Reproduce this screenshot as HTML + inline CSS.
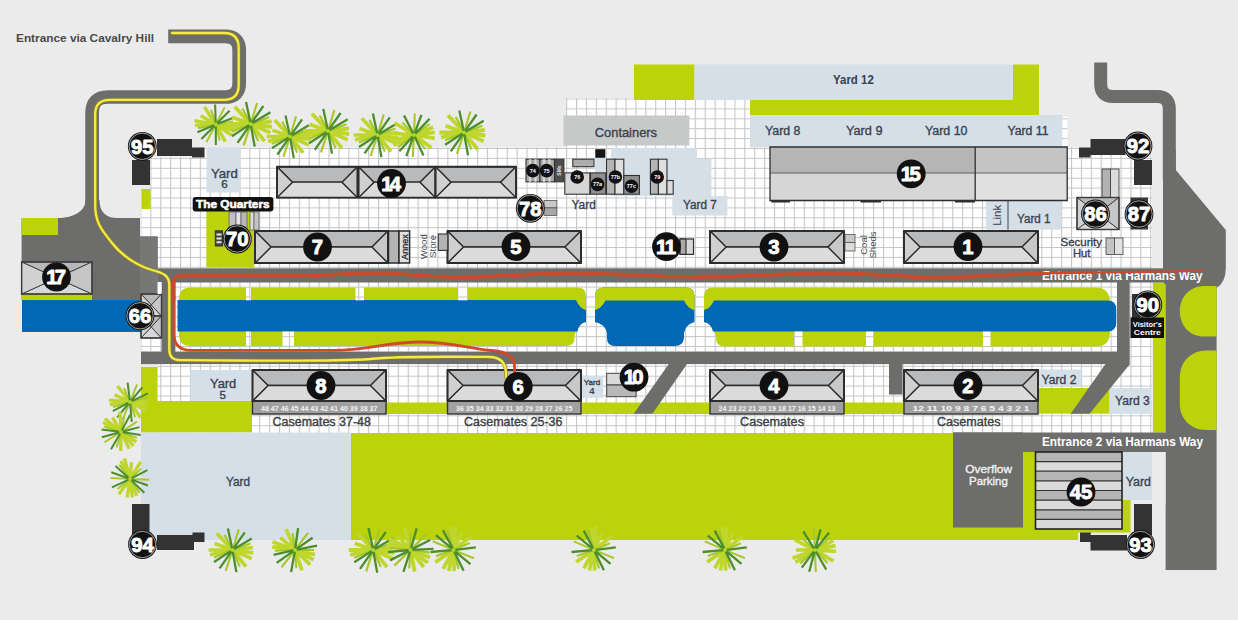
<!DOCTYPE html>
<html lang="en"><head><meta charset="utf-8"><title>Site map</title>
<style>html,body{margin:0;padding:0;background:#ebebeb;overflow:hidden}svg{display:block}</style></head>
<body>
<svg width="1238" height="620" viewBox="0 0 1238 620" font-family="'Liberation Sans', sans-serif">
<defs>
<pattern id="g" x="150.3" y="98.5" width="9.9" height="9.9" patternUnits="userSpaceOnUse">
<rect width="9.9" height="9.9" fill="#fff"/><path d="M0.55,0V9.9M0,0.55H9.9" stroke="#c6c6c6" stroke-width="1.1" fill="none"/></pattern>
</defs>
<rect x="0.0" y="0.0" width="1238.0" height="620.0" fill="#ebebeb" />
<rect x="565.8" y="98.5" width="184.2" height="49.5" fill="url(#g)" />
<rect x="1062.0" y="117.0" width="5.5" height="31.0" fill="url(#g)" />
<rect x="205.0" y="147.5" width="947.0" height="121.5" fill="url(#g)" />
<rect x="150.0" y="157.0" width="55.0" height="112.0" fill="url(#g)" />
<rect x="141.5" y="209.0" width="8.5" height="27.0" fill="url(#g)" />
<rect x="161.0" y="282.0" width="991.0" height="69.5" fill="url(#g)" />
<rect x="141.0" y="338.0" width="21.0" height="13.0" fill="url(#g)" />
<rect x="157.5" y="364.0" width="994.5" height="69.0" fill="url(#g)" />
<rect x="1129.0" y="269.0" width="23.0" height="163.5" fill="url(#g)" />
<rect x="634.0" y="64.5" width="60.5" height="35.5" fill="#bcd20a" />
<rect x="694.5" y="64.5" width="318.5" height="35.5" fill="#d5dfe7" />
<rect x="1013.0" y="64.5" width="26.0" height="50.5" fill="#bcd20a" />
<rect x="750.0" y="100.0" width="289.0" height="15.0" fill="#bcd20a" />
<rect x="750.0" y="115.0" width="312.0" height="32.2" fill="#d5dfe7" />
<rect x="563.5" y="115.5" width="125.8" height="30.0" fill="#c7c8c8" />
<rect x="206.6" y="147.3" width="34.2" height="45.2" fill="#d5dfe7" />
<rect x="141.5" y="189.0" width="9.0" height="20.0" fill="#bcd20a" />
<rect x="206.3" y="211.0" width="48.0" height="56.4" fill="#bcd20a" />
<path d="M611,148H697V158.7H711.4V196H727.4V215.5H672.3V196H611Z" fill="#d5dfe7"/>
<rect x="595.3" y="157.8" width="10.0" height="15.1" fill="#d5dfe7" />
<rect x="985.9" y="200.5" width="22.1" height="29.2" fill="#d5dfe7" />
<rect x="1008.0" y="200.5" width="53.5" height="29.2" fill="#d5dfe7" />
<path d="M1008,200.5V229.7" stroke="#444" stroke-width="1"/>
<rect x="141.0" y="367.0" width="16.5" height="34.0" fill="#bcd20a" />
<rect x="190.5" y="370.0" width="61.0" height="31.0" fill="#d5dfe7" />
<rect x="141.0" y="401.0" width="111.0" height="31.5" fill="#bcd20a" />
<rect x="386.0" y="402.5" width="61.5" height="11.5" fill="#bcd20a" />
<rect x="581.0" y="402.5" width="129.0" height="11.5" fill="#bcd20a" />
<rect x="844.0" y="402.5" width="60.0" height="11.5" fill="#bcd20a" />
<rect x="582.0" y="376.0" width="21.4" height="21.8" fill="#d5dfe7" />
<rect x="1038.5" y="369.5" width="43.0" height="16.8" fill="#d5dfe7" />
<rect x="1038.5" y="388.0" width="71.1" height="25.7" fill="#bcd20a" />
<rect x="1109.6" y="388.0" width="42.2" height="26.0" fill="#d5dfe7" />
<rect x="1153.0" y="282.5" width="12.5" height="150.0" fill="#bcd20a" />
<rect x="141.0" y="432.5" width="210.0" height="107.5" fill="#d5dfe7" />
<path d="M351,433H953V452H1035V500H1130.5V532.5H1078V540H351Z" fill="#bcd20a"/>
<rect x="1122.0" y="452.0" width="30.0" height="48.0" fill="#d5dfe7" />
<rect x="22.0" y="300.0" width="120.0" height="32.0" fill="#0068b4" />
<path d="M85.5,200 C85.5,212 72,218 58,218 H21.6 V300 H157.6 V236.5 H140 V218 H117.5 C106,218 99.5,212 99.5,200 Z" fill="#6d6d6c"/>
<rect x="140.0" y="236.5" width="17.6" height="63.5" fill="#777776" />
<rect x="21.6" y="218.0" width="36.4" height="17.0" fill="#bcd20a" />
<rect x="21.6" y="294.0" width="70.4" height="6.0" fill="#bcd20a" />
<path d="M168.2,36.4 H225 Q239.2,36.4 239.2,50.4 V83 Q239.2,97 225,97 H108 Q92.1,97 92.1,113 V205" fill="none" stroke="#6d6d6c" stroke-width="13.7"/>
<rect x="157.6" y="268.3" width="1012.4" height="14.2" fill="#6d6d6c" />
<rect x="161.5" y="269.0" width="13.9" height="89.0" fill="#6d6d6c" />
<rect x="141.0" y="351.6" width="988.0" height="12.5" fill="#6d6d6c" />
<rect x="1117.0" y="275.0" width="12.7" height="89.5" fill="#6d6d6c" />
<path d="M668.8,364 H687 L652.4,413.7 H633.7 Z" fill="#6d6d6c"/>
<path d="M1105.5,364 H1130 L1089.5,413.7 H1070.7 Z" fill="#6d6d6c"/>
<rect x="889.0" y="364.0" width="13.5" height="30.5" fill="#6d6d6c" />
<path d="M1100.7,62.5 V84 Q1100.7,96.5 1113,96.5 H1157 Q1169.3,96.5 1169.3,109 V180" fill="none" stroke="#6d6d6c" stroke-width="13"/>
<path d="M1163,150 H1175.8 V170 L1225.8,230 V268 Q1225.8,282 1216.6,288 V570 H1165.6 V285 L1163,281 Z" fill="#6d6d6c"/>
<path d="M1216.6,286 H1204 C1190,286 1179.8,297 1179.8,311 C1179.8,326 1190,336.6 1204,336.6 H1216.6Z" fill="#bcd20a"/>
<path d="M1216.6,350.4 H1206 C1191,350.4 1179.8,362 1179.8,377 V404 C1179.8,419 1191,430 1206,430 H1216.6 Z" fill="#bcd20a"/>
<rect x="953.0" y="432.5" width="213.0" height="19.5" fill="#6d6d6c" />
<rect x="953.0" y="432.5" width="70.0" height="95.0" fill="#6d6d6c" />
<rect x="1152.5" y="452.0" width="13.0" height="53.0" fill="#ebebeb" />
<path d="M179,301 V299 Q179,287.6 191,287.6 H577 Q586,287.5 586,296 V322 Q579,323 577,331 Q575,331 574.5,338 Q574.5,346 566,346 H190 Q179,346 179,334 Z" fill="#bcd20a"/>
<path d="M177.5,300 H576 Q580,309 586,310 V322 Q579,323 577.5,331.5 H177.5 Z" fill="#0068b4"/>
<path d="M595,322 V296 Q595,287.5 604,287.5 H686 Q694.5,287.5 694.5,296 V322 Q686,324 684,333 V338 Q683,346 675,346 H615 Q607,346 607,338 V333 Q605,324 595,322 Z" fill="#0068b4"/>
<path d="M595,310 V296 Q595,287.5 604,287.5 H686 Q694.5,287.5 694.5,296 V310 Q688,309 684,300.5 H605.5 Q601,309 595,310 Z" fill="#bcd20a"/>
<path d="M704,322 V296 Q704,287.5 713,287.5 H1096 Q1110,288 1110,302 V332 Q1110,346.5 1096,346.5 H724 Q716,346 716,338 Q715.5,331 713,331 Q711,323 704,322 Z" fill="#bcd20a"/>
<path d="M704,322 V310 Q710,309 714,300.5 H1107.5 Q1116.3,300.5 1116.3,309.5 V322.5 Q1116.3,331.5 1107.5,331.5 H713 Q711,323 704,322 Z" fill="#0068b4"/>
<rect x="246.0" y="287.0" width="5.0" height="13.3" fill="url(#g)" />
<rect x="355.5" y="287.0" width="8.5" height="13.3" fill="url(#g)" />
<rect x="458.0" y="287.0" width="9.5" height="13.3" fill="url(#g)" />
<rect x="246.0" y="331.6" width="5.0" height="14.9" fill="url(#g)" />
<rect x="282.5" y="331.6" width="11.5" height="14.9" fill="url(#g)" />
<rect x="794.0" y="331.6" width="8.5" height="14.9" fill="url(#g)" />
<rect x="866.0" y="331.6" width="8.0" height="14.9" fill="url(#g)" />
<rect x="983.0" y="331.6" width="7.5" height="14.9" fill="url(#g)" />
<g stroke="#2c2c2c" stroke-width="1.3" stroke-linejoin="round">
<path d="M277,166.8H357.5L342.1,182.2H292.4Z" fill="#b9babb"/>
<path d="M277,197.6H357.5L342.1,182.2H292.4Z" fill="#dbdbdb"/>
<path d="M277,166.8L292.4,182.2L277,197.6Z" fill="#d0d0d0"/>
<path d="M357.5,166.8L342.1,182.2L357.5,197.6Z" fill="#c8c8c8"/>
<rect x="277" y="166.8" width="80.5" height="30.799999999999983" fill="none" stroke-width="1.9"/>
</g>
<g stroke="#2c2c2c" stroke-width="1.3" stroke-linejoin="round">
<path d="M358.5,166.8H435.5L420.1,182.2H373.9Z" fill="#b9babb"/>
<path d="M358.5,197.6H435.5L420.1,182.2H373.9Z" fill="#dbdbdb"/>
<path d="M358.5,166.8L373.9,182.2L358.5,197.6Z" fill="#d0d0d0"/>
<path d="M435.5,166.8L420.1,182.2L435.5,197.6Z" fill="#c8c8c8"/>
<rect x="358.5" y="166.8" width="77.0" height="30.799999999999983" fill="none" stroke-width="1.9"/>
</g>
<g stroke="#2c2c2c" stroke-width="1.3" stroke-linejoin="round">
<path d="M435.5,166.8H516L500.6,182.2H450.9Z" fill="#b9babb"/>
<path d="M435.5,197.6H516L500.6,182.2H450.9Z" fill="#dbdbdb"/>
<path d="M435.5,166.8L450.9,182.2L435.5,197.6Z" fill="#d0d0d0"/>
<path d="M516,166.8L500.6,182.2L516,197.6Z" fill="#c8c8c8"/>
<rect x="435.5" y="166.8" width="80.5" height="30.799999999999983" fill="none" stroke-width="1.9"/>
</g>
<g stroke="#2c2c2c" stroke-width="1.3" stroke-linejoin="round">
<path d="M255,231H388L372.0,247.0H271.0Z" fill="#b9babb"/>
<path d="M255,263H388L372.0,247.0H271.0Z" fill="#dbdbdb"/>
<path d="M255,231L271.0,247.0L255,263Z" fill="#d0d0d0"/>
<path d="M388,231L372.0,247.0L388,263Z" fill="#c8c8c8"/>
<rect x="255" y="231" width="133" height="32" fill="none" stroke-width="1.9"/>
</g>
<g stroke="#2c2c2c" stroke-width="1.3" stroke-linejoin="round">
<path d="M447.5,231H581L565.0,247.0H463.5Z" fill="#b9babb"/>
<path d="M447.5,263H581L565.0,247.0H463.5Z" fill="#dbdbdb"/>
<path d="M447.5,231L463.5,247.0L447.5,263Z" fill="#d0d0d0"/>
<path d="M581,231L565.0,247.0L581,263Z" fill="#c8c8c8"/>
<rect x="447.5" y="231" width="133.5" height="32" fill="none" stroke-width="1.9"/>
</g>
<g stroke="#2c2c2c" stroke-width="1.3" stroke-linejoin="round">
<path d="M710,231H844L828.0,247.0H726.0Z" fill="#b9babb"/>
<path d="M710,263H844L828.0,247.0H726.0Z" fill="#dbdbdb"/>
<path d="M710,231L726.0,247.0L710,263Z" fill="#d0d0d0"/>
<path d="M844,231L828.0,247.0L844,263Z" fill="#c8c8c8"/>
<rect x="710" y="231" width="134" height="32" fill="none" stroke-width="1.9"/>
</g>
<g stroke="#2c2c2c" stroke-width="1.3" stroke-linejoin="round">
<path d="M904,231H1038L1022.0,247.0H920.0Z" fill="#b9babb"/>
<path d="M904,263H1038L1022.0,247.0H920.0Z" fill="#dbdbdb"/>
<path d="M904,231L920.0,247.0L904,263Z" fill="#d0d0d0"/>
<path d="M1038,231L1022.0,247.0L1038,263Z" fill="#c8c8c8"/>
<rect x="904" y="231" width="134" height="32" fill="none" stroke-width="1.9"/>
</g>
<g stroke="#2c2c2c" stroke-width="1.5"><rect x="388.5" y="231" width="10.5" height="32" fill="#b4b4b4"/><rect x="399" y="231" width="10.6" height="32" fill="#e0e0e0"/></g>
<rect x="438.3" y="234" width="9.5" height="16.4" fill="#b4b4b4" stroke="#333" stroke-width="1.1"/>
<g stroke="#555" stroke-width="0.8"><rect x="845" y="234.5" width="10" height="8" fill="#c8c8c8"/><rect x="845" y="242.5" width="10" height="8.5" fill="#dcdcdc"/></g>
<rect x="252.5" y="401" width="133.5" height="13" fill="#a0a0a0" stroke="#333" stroke-width="1.4"/>
<text x="319.25" y="411.3" font-size="7.2" font-weight="bold" fill="#f4f4f4" text-anchor="middle" textLength="116.5" lengthAdjust="spacingAndGlyphs">48 47 46 45 44 43 42 41 40 39 38 37</text>
<g stroke="#2c2c2c" stroke-width="1.3" stroke-linejoin="round">
<path d="M252.5,370H386L370.5,385.5H268.0Z" fill="#b9babb"/>
<path d="M252.5,401H386L370.5,385.5H268.0Z" fill="#dbdbdb"/>
<path d="M252.5,370L268.0,385.5L252.5,401Z" fill="#d0d0d0"/>
<path d="M386,370L370.5,385.5L386,401Z" fill="#c8c8c8"/>
<rect x="252.5" y="370" width="133.5" height="31" fill="none" stroke-width="1.9"/>
</g>
<rect x="447.5" y="401" width="133.5" height="13" fill="#a0a0a0" stroke="#333" stroke-width="1.4"/>
<text x="514.25" y="411.3" font-size="7.2" font-weight="bold" fill="#f4f4f4" text-anchor="middle" textLength="116.5" lengthAdjust="spacingAndGlyphs">36 35 34 33 32 31 30 29 28 27 26 25</text>
<g stroke="#2c2c2c" stroke-width="1.3" stroke-linejoin="round">
<path d="M447.5,370H581L565.5,385.5H463.0Z" fill="#b9babb"/>
<path d="M447.5,401H581L565.5,385.5H463.0Z" fill="#dbdbdb"/>
<path d="M447.5,370L463.0,385.5L447.5,401Z" fill="#d0d0d0"/>
<path d="M581,370L565.5,385.5L581,401Z" fill="#c8c8c8"/>
<rect x="447.5" y="370" width="133.5" height="31" fill="none" stroke-width="1.9"/>
</g>
<rect x="710" y="401" width="134" height="13" fill="#a0a0a0" stroke="#333" stroke-width="1.4"/>
<text x="777.0" y="411.3" font-size="7.2" font-weight="bold" fill="#f4f4f4" text-anchor="middle" textLength="117" lengthAdjust="spacingAndGlyphs">24 23 22 21 20 19 18 17 16 15 14 13</text>
<g stroke="#2c2c2c" stroke-width="1.3" stroke-linejoin="round">
<path d="M710,370H844L828.5,385.5H725.5Z" fill="#b9babb"/>
<path d="M710,401H844L828.5,385.5H725.5Z" fill="#dbdbdb"/>
<path d="M710,370L725.5,385.5L710,401Z" fill="#d0d0d0"/>
<path d="M844,370L828.5,385.5L844,401Z" fill="#c8c8c8"/>
<rect x="710" y="370" width="134" height="31" fill="none" stroke-width="1.9"/>
</g>
<rect x="904" y="401" width="134" height="13" fill="#a0a0a0" stroke="#333" stroke-width="1.4"/>
<text x="971.0" y="411.3" font-size="7.2" font-weight="bold" fill="#f4f4f4" text-anchor="middle" textLength="117" lengthAdjust="spacingAndGlyphs">12 11 10 9 8 7 6 5 4 3 2 1</text>
<g stroke="#2c2c2c" stroke-width="1.3" stroke-linejoin="round">
<path d="M904,370H1038L1022.5,385.5H919.5Z" fill="#b9babb"/>
<path d="M904,401H1038L1022.5,385.5H919.5Z" fill="#dbdbdb"/>
<path d="M904,370L919.5,385.5L904,401Z" fill="#d0d0d0"/>
<path d="M1038,370L1022.5,385.5L1038,401Z" fill="#c8c8c8"/>
<rect x="904" y="370" width="134" height="31" fill="none" stroke-width="1.9"/>
</g>
<g stroke="#2e2e2e" stroke-width="1.3">
<rect x="770" y="147" width="205.2" height="26" fill="#b5b5b5" stroke="none"/><rect x="770" y="173" width="205.2" height="27.5" fill="#d6d6d6" stroke="none"/>
<rect x="975.2" y="147" width="92" height="26" fill="#c4c4c4" stroke="none"/><rect x="975.2" y="173" width="92" height="27.5" fill="#e0e0e0" stroke="none"/>
<path d="M770,173H1067.2" stroke="#555" stroke-width="0.9"/>
<path d="M770,147H1067.2V200.5H770ZM975.2,147V200.5" fill="none"/>
<path d="M771.3,201.6H790M860.6,201.6H881M955,201.6H975" stroke-width="2"/>
</g>
<g stroke="#3a3a3a" stroke-width="0.9">
<path d="M21.6,262H92L56.8,278.0Z" fill="#b8b8b8"/>
<path d="M21.6,294H92L56.8,278.0Z" fill="#d8d8d8"/>
<path d="M21.6,262L56.8,278.0L21.6,294Z" fill="#d2d2d2"/>
<path d="M92,262L56.8,278.0L92,294Z" fill="#c6c6c6"/>
<rect x="21.6" y="262" width="70.4" height="32" fill="none" stroke-width="1.4"/>
</g>
<g stroke="#3a3a3a" stroke-width="0.9">
<path d="M141,294H161.5L151.25,305.0Z" fill="#b8b8b8"/>
<path d="M141,316H161.5L151.25,305.0Z" fill="#d8d8d8"/>
<path d="M141,294L151.25,305.0L141,316Z" fill="#d2d2d2"/>
<path d="M161.5,294L151.25,305.0L161.5,316Z" fill="#c6c6c6"/>
<rect x="141" y="294" width="20.5" height="22" fill="none" stroke-width="1.4"/>
</g>
<g stroke="#3a3a3a" stroke-width="0.9">
<path d="M141,316H161.5L151.25,327.0Z" fill="#b8b8b8"/>
<path d="M141,338H161.5L151.25,327.0Z" fill="#d8d8d8"/>
<path d="M141,316L151.25,327.0L141,338Z" fill="#d2d2d2"/>
<path d="M161.5,316L151.25,327.0L161.5,338Z" fill="#c6c6c6"/>
<rect x="141" y="316" width="20.5" height="22" fill="none" stroke-width="1.4"/>
</g>
<rect x="157.6" y="282.0" width="3.9" height="12.0" fill="#fff" />
<g stroke="#444" stroke-width="0.9"><rect x="1102" y="169" width="8.5" height="28.5" fill="#b2b2b2"/><rect x="1110.5" y="169" width="8.5" height="28.5" fill="#dcdcdc"/></g>
<g stroke="#3a3a3a" stroke-width="0.9">
<path d="M1077,197.5H1119L1098.0,213.5Z" fill="#b8b8b8"/>
<path d="M1077,229.5H1119L1098.0,213.5Z" fill="#d8d8d8"/>
<path d="M1077,197.5L1098.0,213.5L1077,229.5Z" fill="#d2d2d2"/>
<path d="M1119,197.5L1098.0,213.5L1119,229.5Z" fill="#c6c6c6"/>
<rect x="1077" y="197.5" width="42" height="32.0" fill="none" stroke-width="1.4"/>
</g>
<rect x="1130.5" y="197.5" width="17.5" height="32.0" fill="#3a3a3a" />
<rect x="1132.0" y="294.0" width="8.0" height="24.0" fill="#333" />
<g stroke="#555" stroke-width="0.9"><rect x="1106" y="238" width="8.5" height="16.5" fill="#c4c4c4"/><rect x="1114.5" y="238" width="8.5" height="16.5" fill="#e2e2e2"/></g>
<g>
<rect x="1035.5" y="452.0" width="86.5" height="9.6" fill="#b5b5b5" />
<rect x="1035.5" y="461.6" width="86.5" height="9.6" fill="#dadada" />
<rect x="1035.5" y="471.2" width="86.5" height="9.6" fill="#b5b5b5" />
<rect x="1035.5" y="480.9" width="86.5" height="9.6" fill="#dadada" />
<rect x="1035.5" y="490.5" width="86.5" height="9.6" fill="#b5b5b5" />
<rect x="1035.5" y="500.1" width="86.5" height="9.6" fill="#dadada" />
<rect x="1035.5" y="509.8" width="86.5" height="9.6" fill="#b5b5b5" />
<rect x="1035.5" y="519.4" width="86.5" height="9.6" fill="#dadada" />
<path d="M1035.5,461.6H1122" stroke="#333" stroke-width="1.2"/>
<path d="M1035.5,471.2H1122" stroke="#333" stroke-width="1.2"/>
<path d="M1035.5,480.9H1122" stroke="#333" stroke-width="1.2"/>
<path d="M1035.5,490.5H1122" stroke="#333" stroke-width="1.2"/>
<path d="M1035.5,500.1H1122" stroke="#333" stroke-width="1.2"/>
<path d="M1035.5,509.8H1122" stroke="#333" stroke-width="1.2"/>
<path d="M1035.5,519.4H1122" stroke="#333" stroke-width="1.2"/>
<rect x="1035.5" y="452" width="86.5" height="77" fill="none" stroke="#222" stroke-width="1.6"/></g>
<g stroke="#444" stroke-width="1"><rect x="606.7" y="373.3" width="29.4" height="11.7" fill="#dadada"/><rect x="606.7" y="385" width="29.4" height="11.7" fill="#b8b8b8"/></g>
<g stroke="#2e2e2e" stroke-width="1.2"><rect x="680" y="239" width="13.5" height="15.4" fill="#d8d8d8"/><rect x="680" y="239" width="6" height="15.4" fill="#a8a8a8"/></g>
<g stroke="#555" stroke-width="0.8"><rect x="544" y="200.4" width="12.8" height="7.5" fill="#c8c8c8"/><rect x="544" y="207.9" width="12.8" height="7.6" fill="#a8a8a8"/></g>
<g stroke="#555" stroke-width="0.7"><rect x="229" y="212" width="7" height="18" fill="#c0c0c0"/><rect x="236" y="212" width="5" height="18" fill="#e4e4e4"/><rect x="241" y="212" width="6" height="18" fill="#b8b8b8"/><rect x="250" y="212" width="4" height="18" fill="#ddd"/><rect x="254" y="212" width="5" height="18" fill="#c4c4c4"/></g>
<g stroke="#333" stroke-width="1"><rect x="215.3" y="230.8" width="7.2" height="15.2" fill="#444"/></g><path d="M216.5,234.5H221.5M216.5,238.4H221.5M216.5,242.3H221.5" stroke="#e6e6e6" stroke-width="2"/>
<path d="M157,139H192V147.5H204.5V157.5H192V156H157Z" fill="#333333"/>
<path d="M132,160H150V185H132Z" fill="#333333"/>
<path d="M1090.5,139H1125.5V155H1090.5V157.5H1079V147.5H1090.5Z" fill="#333333"/>
<path d="M1134,160H1152V185H1134Z" fill="#333333"/>
<path d="M132,504H149.5V535H132Z" fill="#333333"/>
<path d="M157,535H192.5V532.5H204.5V542H194V550H157Z" fill="#333333"/>
<path d="M1134,504H1152V535H1134Z" fill="#333333"/>
<path d="M1090.5,535H1127V550.5H1090.5V542H1080V532.5H1091Z" fill="#333333"/>
<g stroke="#333" stroke-width="1.1">
<rect x="526" y="159.2" width="14" height="22.6" fill="#a9a9a9"/><rect x="540" y="159.2" width="14.5" height="22.6" fill="#a9a9a9"/><rect x="554.5" y="159.2" width="9.4" height="22.6" fill="#4d4d4d"/>
<path d="M530,159.2V181.8M535.5,159.2V181.8M544,159.2V181.8M549.5,159.2V181.8" stroke="#d8d8d8" stroke-width="2.2"/>
<rect x="564.8" y="172.9" width="25" height="21.3" fill="#d6d6d6"/><rect x="572.8" y="159.2" width="21.2" height="7.5" fill="#adadad"/>
<rect x="590.5" y="172.9" width="15.2" height="21.3" fill="#8f8f8f"/>
<rect x="606.5" y="159.2" width="8.5" height="35" fill="#b4b4b4"/><rect x="615" y="159.2" width="8.8" height="35" fill="#dedede"/>
<rect x="623.8" y="175.5" width="15.6" height="18.7" fill="#8f8f8f"/>
<rect x="650.4" y="159.2" width="8" height="35" fill="#b4b4b4"/><rect x="658.4" y="159.2" width="8.6" height="35" fill="#dedede"/><rect x="667" y="180.5" width="6.2" height="13.7" fill="#dcdcdc"/>
</g>
<rect x="595.3" y="149.2" width="10.0" height="8.6" fill="#151515" />
<text x="1122.3" y="279.8" font-size="12.1" font-weight="bold" fill="#fff" text-anchor="middle" textLength="160.6" lengthAdjust="spacingAndGlyphs" >Entrance 1 via Harmans Way</text>
<g fill="none" stroke-linecap="round" stroke-linejoin="round">
<path d="M172,33 H224 Q238.7,33 238.7,48 V85 Q238.7,99.8 224,99.8 H110 Q95.2,99.8 95.2,114 V205 C95.2,225 104,232 112,243 C122,256 138,266 152,270 C164,273 169.3,276 169.3,285 V350 Q169.6,360.2 180,360.2 C260,360.4 330,362 370,359 C400,356 440,356.5 490,357 Q505,357.5 506,372 V377" stroke="#8a8530" stroke-width="3.7"/>
<path d="M172,33 H224 Q238.7,33 238.7,48 V85 Q238.7,99.8 224,99.8 H110 Q95.2,99.8 95.2,114 V205 C95.2,225 104,232 112,243 C122,256 138,266 152,270 C164,273 169.3,276 169.3,285 V350 Q169.6,360.2 180,360.2 C260,360.4 330,362 370,359 C400,356 440,356.5 490,357 Q505,357.5 506,372 V377" stroke="#f7ea42" stroke-width="2.3"/>
<path d="M1044,273.3 C1010,274 960,278 930,277.5 C880,275 840,272 790,274 C740,277 700,278 650,276 C600,273 560,272 520,275 C480,278 440,278 400,274 C360,271 330,276 300,276.2 H180 Q173.6,276.2 173.6,283 V300" stroke="#c94a2b" stroke-width="3.7"/>
<path d="M1203,270.9 L1040,273.4" stroke="#c94a2b" stroke-width="2.2"/>
<path d="M173.9,296 V334 Q174.2,350.3 191,350.3 H335 C365,350 385,343 417,342 C450,341.5 468,348.5 492,350.5 Q514.5,352.5 514.5,366 V378" stroke="#cf4a2a" stroke-width="2.8"/>
</g>
<circle cx="142.3" cy="146.3" r="14.4" fill="#111"/>
<circle cx="142.3" cy="146.3" r="13.200000000000001" fill="none" stroke="#fff" stroke-opacity="0.85" stroke-width="0.7"/>
<text transform="translate(142.3,153.56740000000002) scale(1.0,1)" font-size="20.3" font-weight="bold" fill="#fff" stroke="#fff" stroke-width="0.9" stroke-linejoin="round" text-anchor="middle">95</text>
<circle cx="1138" cy="146" r="14.4" fill="#111"/>
<circle cx="1138" cy="146" r="13.200000000000001" fill="none" stroke="#fff" stroke-opacity="0.85" stroke-width="0.7"/>
<text transform="translate(1138,153.2674) scale(1.0,1)" font-size="20.3" font-weight="bold" fill="#fff" stroke="#fff" stroke-width="0.9" stroke-linejoin="round" text-anchor="middle">92</text>
<circle cx="142.5" cy="544.5" r="14.4" fill="#111"/>
<circle cx="142.5" cy="544.5" r="13.200000000000001" fill="none" stroke="#fff" stroke-opacity="0.85" stroke-width="0.7"/>
<text transform="translate(142.5,551.7674) scale(1.0,1)" font-size="20.3" font-weight="bold" fill="#fff" stroke="#fff" stroke-width="0.9" stroke-linejoin="round" text-anchor="middle">94</text>
<circle cx="1140.5" cy="544.5" r="14.4" fill="#111"/>
<circle cx="1140.5" cy="544.5" r="13.200000000000001" fill="none" stroke="#fff" stroke-opacity="0.85" stroke-width="0.7"/>
<text transform="translate(1140.5,551.7674) scale(1.0,1)" font-size="20.3" font-weight="bold" fill="#fff" stroke="#fff" stroke-width="0.9" stroke-linejoin="round" text-anchor="middle">93</text>
<circle cx="140" cy="315.8" r="14.4" fill="#111"/>
<circle cx="140" cy="315.8" r="13.200000000000001" fill="none" stroke="#fff" stroke-opacity="0.85" stroke-width="0.7"/>
<text transform="translate(140,323.0674) scale(1.0,1)" font-size="20.3" font-weight="bold" fill="#fff" stroke="#fff" stroke-width="0.9" stroke-linejoin="round" text-anchor="middle">66</text>
<circle cx="1147.8" cy="304.8" r="14.4" fill="#111"/>
<circle cx="1147.8" cy="304.8" r="13.200000000000001" fill="none" stroke="#fff" stroke-opacity="0.85" stroke-width="0.7"/>
<text transform="translate(1147.8,312.0674) scale(1.0,1)" font-size="20.3" font-weight="bold" fill="#fff" stroke="#fff" stroke-width="0.9" stroke-linejoin="round" text-anchor="middle">90</text>
<circle cx="1095.5" cy="214" r="14.4" fill="#111"/>
<circle cx="1095.5" cy="214" r="13.200000000000001" fill="none" stroke="#fff" stroke-opacity="0.85" stroke-width="0.7"/>
<text transform="translate(1095.5,221.2674) scale(1.0,1)" font-size="20.3" font-weight="bold" fill="#fff" stroke="#fff" stroke-width="0.9" stroke-linejoin="round" text-anchor="middle">86</text>
<circle cx="1139" cy="214" r="14.4" fill="#111"/>
<circle cx="1139" cy="214" r="13.200000000000001" fill="none" stroke="#fff" stroke-opacity="0.85" stroke-width="0.7"/>
<text transform="translate(1139,221.2674) scale(1.0,1)" font-size="20.3" font-weight="bold" fill="#fff" stroke="#fff" stroke-width="0.9" stroke-linejoin="round" text-anchor="middle">87</text>
<circle cx="530.3" cy="208.3" r="14.4" fill="#111"/>
<circle cx="530.3" cy="208.3" r="13.200000000000001" fill="none" stroke="#fff" stroke-opacity="0.85" stroke-width="0.7"/>
<text transform="translate(530.3,215.56740000000002) scale(1.0,1)" font-size="20.3" font-weight="bold" fill="#fff" stroke="#fff" stroke-width="0.9" stroke-linejoin="round" text-anchor="middle">78</text>
<circle cx="237.3" cy="239" r="14.4" fill="#111"/>
<circle cx="237.3" cy="239" r="13.200000000000001" fill="none" stroke="#fff" stroke-opacity="0.85" stroke-width="0.7"/>
<text transform="translate(237.3,246.2674) scale(1.0,1)" font-size="20.3" font-weight="bold" fill="#fff" stroke="#fff" stroke-width="0.9" stroke-linejoin="round" text-anchor="middle">70</text>
<circle cx="56.5" cy="277" r="14.4" fill="#111"/>
<text transform="translate(54.8,284.2674) scale(1.0,1)" font-size="20.3" font-weight="bold" fill="#fff" stroke="#fff" stroke-width="0.9" stroke-linejoin="round" text-anchor="middle" letter-spacing="-2.6">17</text>
<circle cx="391.5" cy="183.5" r="14.4" fill="#111"/>
<text transform="translate(389.8,190.7674) scale(1.0,1)" font-size="20.3" font-weight="bold" fill="#fff" stroke="#fff" stroke-width="0.9" stroke-linejoin="round" text-anchor="middle" letter-spacing="-2.6">14</text>
<circle cx="317.5" cy="247" r="14.4" fill="#111"/>
<text transform="translate(317.5,254.2674) scale(1.0,1)" font-size="20.3" font-weight="bold" fill="#fff" stroke="#fff" stroke-width="0.9" stroke-linejoin="round" text-anchor="middle">7</text>
<circle cx="516" cy="246.5" r="14.4" fill="#111"/>
<text transform="translate(516,253.7674) scale(1.0,1)" font-size="20.3" font-weight="bold" fill="#fff" stroke="#fff" stroke-width="0.9" stroke-linejoin="round" text-anchor="middle">5</text>
<circle cx="774" cy="247" r="14.4" fill="#111"/>
<text transform="translate(774,254.2674) scale(1.0,1)" font-size="20.3" font-weight="bold" fill="#fff" stroke="#fff" stroke-width="0.9" stroke-linejoin="round" text-anchor="middle">3</text>
<circle cx="968" cy="246.5" r="14.4" fill="#111"/>
<text transform="translate(968,253.7674) scale(1.0,1)" font-size="20.3" font-weight="bold" fill="#fff" stroke="#fff" stroke-width="0.9" stroke-linejoin="round" text-anchor="middle">1</text>
<circle cx="321" cy="385.5" r="14.4" fill="#111"/>
<text transform="translate(321,392.7674) scale(1.0,1)" font-size="20.3" font-weight="bold" fill="#fff" stroke="#fff" stroke-width="0.9" stroke-linejoin="round" text-anchor="middle">8</text>
<circle cx="518.2" cy="386.5" r="14.4" fill="#111"/>
<text transform="translate(518.2,393.7674) scale(1.0,1)" font-size="20.3" font-weight="bold" fill="#fff" stroke="#fff" stroke-width="0.9" stroke-linejoin="round" text-anchor="middle">6</text>
<circle cx="774" cy="385.5" r="14.4" fill="#111"/>
<text transform="translate(774,392.7674) scale(1.0,1)" font-size="20.3" font-weight="bold" fill="#fff" stroke="#fff" stroke-width="0.9" stroke-linejoin="round" text-anchor="middle">4</text>
<circle cx="968" cy="385.5" r="14.4" fill="#111"/>
<text transform="translate(968,392.7674) scale(1.0,1)" font-size="20.3" font-weight="bold" fill="#fff" stroke="#fff" stroke-width="0.9" stroke-linejoin="round" text-anchor="middle">2</text>
<circle cx="911.2" cy="173.8" r="14.4" fill="#111"/>
<text transform="translate(909.5,181.06740000000002) scale(1.0,1)" font-size="20.3" font-weight="bold" fill="#fff" stroke="#fff" stroke-width="0.9" stroke-linejoin="round" text-anchor="middle" letter-spacing="-2.6">15</text>
<circle cx="666.5" cy="246.6" r="14.4" fill="#111"/>
<text transform="translate(665.3,253.8674) scale(1.0,1)" font-size="20.3" font-weight="bold" fill="#fff" stroke="#fff" stroke-width="0.9" stroke-linejoin="round" text-anchor="middle" letter-spacing="-1.4">11</text>
<circle cx="634" cy="377.2" r="14.4" fill="#111"/>
<text transform="translate(632.3,384.4674) scale(1.0,1)" font-size="20.3" font-weight="bold" fill="#fff" stroke="#fff" stroke-width="0.9" stroke-linejoin="round" text-anchor="middle" letter-spacing="-2.6">10</text>
<circle cx="1081" cy="492" r="14.4" fill="#111"/>
<text transform="translate(1081,499.2674) scale(1.0,1)" font-size="20.3" font-weight="bold" fill="#fff" stroke="#fff" stroke-width="0.9" stroke-linejoin="round" text-anchor="middle">45</text>
<circle cx="532.8" cy="170.6" r="6.8" fill="#111"/>
<text x="532.8" y="172.6" font-size="5.5" font-weight="bold" fill="#fff" text-anchor="middle">74</text>
<circle cx="546.6" cy="170.6" r="6.8" fill="#111"/>
<text x="546.6" y="172.6" font-size="5.5" font-weight="bold" fill="#fff" text-anchor="middle">75</text>
<circle cx="577.2" cy="177" r="6.8" fill="#111"/>
<text x="577.2" y="179" font-size="5.5" font-weight="bold" fill="#fff" text-anchor="middle">76</text>
<circle cx="597.6" cy="184.4" r="6.8" fill="#111"/>
<text x="597.6" y="186.4" font-size="5.5" font-weight="bold" fill="#fff" text-anchor="middle">77a</text>
<circle cx="615.4" cy="177" r="6.8" fill="#111"/>
<text x="615.4" y="179" font-size="5.5" font-weight="bold" fill="#fff" text-anchor="middle">77b</text>
<circle cx="631.4" cy="186.2" r="6.8" fill="#111"/>
<text x="631.4" y="188.2" font-size="5.5" font-weight="bold" fill="#fff" text-anchor="middle">77c</text>
<circle cx="657.2" cy="177" r="6.8" fill="#111"/>
<text x="657.2" y="179" font-size="5.5" font-weight="bold" fill="#fff" text-anchor="middle">79</text>
<text x="16" y="41.5" font-size="11.5" font-weight="bold" fill="#4a4a4a" text-anchor="start" textLength="138" lengthAdjust="spacingAndGlyphs" >Entrance via Cavalry Hill</text>
<text x="224.4" y="178.3" font-size="13.2" font-weight="normal" fill="#39414e" stroke="#39414e" stroke-width="0.35" text-anchor="middle" textLength="26.8" lengthAdjust="spacingAndGlyphs" >Yard</text>
<text x="224.5" y="188.4" font-size="11.5" font-weight="normal" fill="#39414e" stroke="#39414e" stroke-width="0.35" text-anchor="middle" >6</text>
<text x="223.15" y="387.5" font-size="13" font-weight="normal" fill="#39414e" stroke="#39414e" stroke-width="0.35" text-anchor="middle" textLength="26.3" lengthAdjust="spacingAndGlyphs" >Yard</text>
<text x="222.8" y="399" font-size="11.5" font-weight="normal" fill="#39414e" stroke="#39414e" stroke-width="0.35" text-anchor="middle" >5</text>
<text x="238.0" y="486" font-size="12.5" font-weight="normal" fill="#39414e" stroke="#39414e" stroke-width="0.35" text-anchor="middle" textLength="24" lengthAdjust="spacingAndGlyphs" >Yard</text>
<text x="625.9" y="136.6" font-size="12.8" font-weight="normal" fill="#39414e" stroke="#39414e" stroke-width="0.35" text-anchor="middle" textLength="62.2" lengthAdjust="spacingAndGlyphs" >Containers</text>
<text x="583.7" y="209" font-size="12.5" font-weight="normal" fill="#39414e" stroke="#39414e" stroke-width="0.35" text-anchor="middle" textLength="24.4" lengthAdjust="spacingAndGlyphs" >Yard</text>
<text x="699.85" y="208.5" font-size="12.5" font-weight="normal" fill="#39414e" stroke="#39414e" stroke-width="0.35" text-anchor="middle" textLength="33.7" lengthAdjust="spacingAndGlyphs" >Yard 7</text>
<text x="853.4" y="84" font-size="12.3" font-weight="bold" fill="#39414e" text-anchor="middle" textLength="40.8" lengthAdjust="spacingAndGlyphs" >Yard 12</text>
<text x="782.75" y="135.4" font-size="12.5" font-weight="normal" fill="#39414e" stroke="#39414e" stroke-width="0.35" text-anchor="middle" textLength="35.5" lengthAdjust="spacingAndGlyphs" >Yard 8</text>
<text x="864.25" y="135.4" font-size="12.5" font-weight="normal" fill="#39414e" stroke="#39414e" stroke-width="0.35" text-anchor="middle" textLength="36.5" lengthAdjust="spacingAndGlyphs" >Yard 9</text>
<text x="946.25" y="135.4" font-size="12.5" font-weight="normal" fill="#39414e" stroke="#39414e" stroke-width="0.35" text-anchor="middle" textLength="42.5" lengthAdjust="spacingAndGlyphs" >Yard 10</text>
<text x="1028.0" y="135.4" font-size="12.5" font-weight="normal" fill="#39414e" stroke="#39414e" stroke-width="0.35" text-anchor="middle" textLength="41.0" lengthAdjust="spacingAndGlyphs" >Yard 11</text>
<text x="1033.75" y="223" font-size="12.5" font-weight="normal" fill="#39414e" stroke="#39414e" stroke-width="0.35" text-anchor="middle" textLength="33.5" lengthAdjust="spacingAndGlyphs" >Yard 1</text>
<text x="1059.05" y="383.5" font-size="12.5" font-weight="normal" fill="#39414e" stroke="#39414e" stroke-width="0.35" text-anchor="middle" textLength="34.9" lengthAdjust="spacingAndGlyphs" >Yard 2</text>
<text x="1132.4" y="404.6" font-size="12.5" font-weight="normal" fill="#39414e" stroke="#39414e" stroke-width="0.35" text-anchor="middle" textLength="34.8" lengthAdjust="spacingAndGlyphs" >Yard 3</text>
<text x="1138.35" y="486" font-size="12.5" font-weight="normal" fill="#39414e" stroke="#39414e" stroke-width="0.35" text-anchor="middle" textLength="25.3" lengthAdjust="spacingAndGlyphs" >Yard</text>
<text x="592" y="385.2" font-size="7.5" font-weight="normal" fill="#39414e" stroke="#39414e" stroke-width="0.35" text-anchor="middle" textLength="16.5" lengthAdjust="spacingAndGlyphs" >Yard</text>
<text x="592" y="394.4" font-size="9.5" font-weight="bold" fill="#39414e" text-anchor="middle" >4</text>
<text x="1081.25" y="245.5" font-size="11" font-weight="normal" fill="#39414e" stroke="#39414e" stroke-width="0.35" text-anchor="middle" textLength="41.5" lengthAdjust="spacingAndGlyphs" >Security</text>
<text x="1081.75" y="257" font-size="11" font-weight="normal" fill="#39414e" stroke="#39414e" stroke-width="0.35" text-anchor="middle" textLength="17.5" lengthAdjust="spacingAndGlyphs" >Hut</text>
<text x="321.75" y="426.4" font-size="12.5" font-weight="normal" fill="#3a3d42" stroke="#3a3d42" stroke-width="0.35" text-anchor="middle" textLength="98.5" lengthAdjust="spacingAndGlyphs" >Casemates 37-48</text>
<text x="513.25" y="426.4" font-size="12.5" font-weight="normal" fill="#3a3d42" stroke="#3a3d42" stroke-width="0.35" text-anchor="middle" textLength="98.5" lengthAdjust="spacingAndGlyphs" >Casemates 25-36</text>
<text x="772.0" y="426.4" font-size="12.5" font-weight="normal" fill="#3a3d42" stroke="#3a3d42" stroke-width="0.35" text-anchor="middle" textLength="64" lengthAdjust="spacingAndGlyphs" >Casemates</text>
<text x="968.75" y="426.4" font-size="12.5" font-weight="normal" fill="#3a3d42" stroke="#3a3d42" stroke-width="0.35" text-anchor="middle" textLength="63.5" lengthAdjust="spacingAndGlyphs" >Casemates</text>
<text x="1122.5" y="445.6" font-size="12" font-weight="bold" fill="#fff" text-anchor="middle" textLength="161" lengthAdjust="spacingAndGlyphs" >Entrance 2 via Harmans Way</text>
<text x="988.65" y="472.5" font-size="11.3" font-weight="normal" fill="#f2f2f2" stroke="#f2f2f2" stroke-width="0.35" text-anchor="middle" textLength="46.7" lengthAdjust="spacingAndGlyphs" >Overflow</text>
<text x="988.4" y="485" font-size="11.3" font-weight="normal" fill="#f2f2f2" stroke="#f2f2f2" stroke-width="0.35" text-anchor="middle" textLength="38.8" lengthAdjust="spacingAndGlyphs" >Parking</text>
<text transform="translate(407.6,247) rotate(-90)" font-size="9" fill="#2a2a2a" stroke="#2a2a2a" stroke-width="0.3" text-anchor="middle">Annex</text>
<text transform="translate(426.8,246.7) rotate(-90)" font-size="9.6" fill="#4a4f57" text-anchor="middle">Wood</text>
<text transform="translate(435.6,246.4) rotate(-90)" font-size="9.6" fill="#4a4f57" text-anchor="middle">Store</text>
<text transform="translate(867.3,245) rotate(-90)" font-size="9.6" fill="#4a4f57" text-anchor="middle">Coal</text>
<text transform="translate(876,245) rotate(-90)" font-size="9.6" fill="#4a4f57" text-anchor="middle">Sheds</text>
<text transform="translate(1001.3,215.3) rotate(-90)" font-size="11.5" fill="#39414e" text-anchor="middle">Link</text>
<text transform="translate(561,170.5) rotate(-90)" font-size="5" font-weight="bold" fill="#e8e8e8" text-anchor="middle">SMs</text>
<rect x="192.7" y="197" width="80.7" height="14.4" rx="3" fill="#111"/>
<text x="232.8" y="207.6" font-size="11.7" font-weight="bold" fill="#fff" stroke="#fff" stroke-width="0.6" text-anchor="middle" textLength="73.5" lengthAdjust="spacingAndGlyphs">The Quarters</text>
<rect x="1130.5" y="317.5" width="33.5" height="20.5" fill="#111"/>
<text x="1147.3" y="326.5" font-size="7.5" font-weight="bold" fill="#fff" text-anchor="middle" textLength="29" lengthAdjust="spacingAndGlyphs">Visitor's</text>
<text x="1147.3" y="335.3" font-size="7.5" font-weight="bold" fill="#fff" text-anchor="middle" textLength="27" lengthAdjust="spacingAndGlyphs">Centre</text>
<path d="M215.8,124.5L204.4,107.0M215.8,124.5L194.4,120.7M215.8,124.5L194.9,125.2M215.8,124.5L234.5,125.5M215.8,124.5L231.7,135.2M215.8,124.5L225.3,141.6M215.8,124.5L234.0,130.4M215.8,124.5L200.7,115.8" stroke="#bfd62c" stroke-width="3.4" fill="none"/>
<path d="M216.3,123.6L224.7,107.1M215.3,125.4L206.4,142.2M215.5,123.5L211.0,109.6M216.0,125.5L219.8,140.5M216.8,124.3L232.9,121.5M214.8,124.7L197.9,128.3" stroke="#a9c72b" stroke-width="1.9" fill="none"/>
<path d="M215.7,122.5L215.1,104.5M217.2,123.1L229.6,110.7M217.7,123.8L234.9,117.2M214.0,125.3L197.4,132.3M214.4,125.9L201.4,138.9M215.8,126.5L215.8,144.9" stroke="#4b8f2c" stroke-width="2.1" fill="none"/>
<path d="M250.7,124.0L234.7,106.8M250.7,124.0L226.2,124.0M250.7,124.0L227.7,128.9M250.7,124.0L271.6,121.4M250.7,124.0L270.4,132.8M250.7,124.0L264.6,141.1M250.7,124.0L272.0,127.0M250.7,124.0L232.3,117.3" stroke="#bfd62c" stroke-width="3.8" fill="none"/>
<path d="M251.0,123.0L257.1,103.0M250.4,125.0L243.7,145.4M250.2,123.1L242.4,108.5M251.1,124.9L258.3,141.0M251.6,123.7L269.1,117.3M249.8,124.4L231.7,131.7" stroke="#a9c72b" stroke-width="2.2" fill="none"/>
<path d="M250.3,122.0L246.0,102.0M251.8,122.4L263.3,106.0M252.4,123.0L270.4,112.2M249.0,125.1L231.8,136.3M249.6,125.6L237.5,142.8M251.0,126.0L254.7,146.6" stroke="#4b8f2c" stroke-width="2.3" fill="none"/>
<path d="M290.0,136.5L274.7,120.1M290.0,136.5L266.6,136.5M290.0,136.5L268.1,141.2M290.0,136.5L309.9,134.1M290.0,136.5L308.8,144.9M290.0,136.5L303.2,152.8M290.0,136.5L310.4,139.4M290.0,136.5L272.4,130.1" stroke="#bfd62c" stroke-width="3.6" fill="none"/>
<path d="M290.3,135.5L296.1,116.4M289.7,137.5L283.4,156.9M289.5,135.6L282.1,121.6M290.4,137.4L297.2,152.7M290.9,136.2L307.6,130.1M289.1,136.9L271.8,143.9" stroke="#a9c72b" stroke-width="2.1" fill="none"/>
<path d="M289.6,134.5L285.5,115.5M291.1,134.9L302.1,119.3M291.7,135.5L308.8,125.2M288.3,137.6L272.0,148.2M288.9,138.1L277.4,154.5M290.3,138.5L293.8,158.1" stroke="#4b8f2c" stroke-width="2.2" fill="none"/>
<path d="M328.0,131.0L312.0,113.8M328.0,131.0L303.5,131.0M328.0,131.0L305.0,135.9M328.0,131.0L348.9,128.4M328.0,131.0L347.7,139.8M328.0,131.0L341.9,148.1M328.0,131.0L349.3,134.0M328.0,131.0L309.6,124.3" stroke="#bfd62c" stroke-width="3.8" fill="none"/>
<path d="M328.3,130.0L334.4,110.0M327.7,132.0L321.0,152.4M327.5,130.1L319.7,115.5M328.4,131.9L335.6,148.0M328.9,130.7L346.4,124.3M327.1,131.4L309.0,138.7" stroke="#a9c72b" stroke-width="2.2" fill="none"/>
<path d="M327.6,129.0L323.3,109.0M329.1,129.4L340.6,113.0M329.7,130.0L347.7,119.2M326.3,132.1L309.1,143.3M326.9,132.6L314.8,149.8M328.3,133.0L332.0,153.6" stroke="#4b8f2c" stroke-width="2.3" fill="none"/>
<path d="M377.5,135.0L361.8,118.2M377.5,135.0L353.6,135.0M377.5,135.0L355.0,139.8M377.5,135.0L397.9,132.5M377.5,135.0L396.7,143.6M377.5,135.0L391.0,151.7M377.5,135.0L398.3,137.9M377.5,135.0L359.5,128.5" stroke="#bfd62c" stroke-width="3.7" fill="none"/>
<path d="M377.8,134.0L383.8,114.4M377.2,136.0L370.7,155.9M377.0,134.1L369.4,119.8M377.9,135.9L384.9,151.6M378.4,134.7L395.5,128.5M376.6,135.4L358.9,142.5" stroke="#a9c72b" stroke-width="2.1" fill="none"/>
<path d="M377.1,133.0L372.9,113.5M378.6,133.4L389.8,117.4M379.2,134.0L396.8,123.4M375.8,136.1L359.0,147.0M376.4,136.6L364.6,153.4M377.8,137.0L381.4,157.1" stroke="#4b8f2c" stroke-width="2.3" fill="none"/>
<path d="M414.0,135.0L394.5,122.8M414.0,135.0L390.9,141.2M414.0,135.0L393.5,145.4M414.0,135.0L433.1,127.3M414.0,135.0L434.8,138.3M414.0,135.0L431.4,147.7M414.0,135.0L434.9,132.4M414.0,135.0L394.9,133.3" stroke="#bfd62c" stroke-width="3.7" fill="none"/>
<path d="M414.0,134.0L414.8,113.5M413.9,136.0L412.8,157.0M413.3,134.3L402.3,122.4M414.6,135.8L425.4,149.1M414.8,134.4L429.7,124.0M413.2,135.6L398.0,147.1" stroke="#a9c72b" stroke-width="2.1" fill="none"/>
<path d="M413.1,133.2L404.0,115.4M414.7,133.1L421.4,114.8M415.4,133.6L429.6,118.8M412.7,136.5L399.3,151.3M413.3,136.9L406.3,156.1M414.8,136.8L423.5,155.4" stroke="#4b8f2c" stroke-width="2.3" fill="none"/>
<path d="M464.0,132.5L448.0,115.3M464.0,132.5L439.5,132.5M464.0,132.5L441.0,137.4M464.0,132.5L484.9,129.9M464.0,132.5L483.7,141.3M464.0,132.5L477.9,149.6M464.0,132.5L485.3,135.5M464.0,132.5L445.6,125.8" stroke="#bfd62c" stroke-width="3.8" fill="none"/>
<path d="M464.3,131.5L470.4,111.5M463.7,133.5L457.0,153.9M463.5,131.6L455.7,117.0M464.4,133.4L471.6,149.5M464.9,132.2L482.4,125.8M463.1,132.9L445.0,140.2" stroke="#a9c72b" stroke-width="2.2" fill="none"/>
<path d="M463.6,130.5L459.3,110.5M465.1,130.9L476.6,114.5M465.7,131.5L483.7,120.7M462.3,133.6L445.1,144.8M462.9,134.1L450.8,151.3M464.3,134.5L468.0,155.1" stroke="#4b8f2c" stroke-width="2.3" fill="none"/>
<path d="M130.0,402.0L117.5,386.0M130.0,402.0L108.9,400.2M130.0,402.0L109.8,404.5M130.0,402.0L148.2,401.4M130.0,402.0L146.3,411.0M130.0,402.0L140.7,417.8M130.0,402.0L148.2,406.2M130.0,402.0L114.6,394.8" stroke="#bfd62c" stroke-width="3.3" fill="none"/>
<path d="M130.4,401.1L137.1,384.3M129.6,402.9L122.4,419.9M129.6,401.1L124.0,388.0M130.3,402.9L135.2,417.2M131.0,401.7L146.4,397.6M129.0,402.3L113.0,407.2" stroke="#a9c72b" stroke-width="1.9" fill="none"/>
<path d="M129.8,400.0L127.6,382.6M131.3,400.5L142.3,387.4M131.8,401.1L147.9,393.3M128.2,402.9L112.8,411.2M128.7,403.5L117.2,417.3M130.2,404.0L131.7,421.8" stroke="#4b8f2c" stroke-width="2.0" fill="none"/>
<path d="M121.0,432.0L119.9,411.7M121.0,432.0L104.8,418.4M121.0,432.0L103.0,422.4M121.0,432.0L136.3,441.9M121.0,432.0L129.2,448.8M121.0,432.0L120.7,451.1M121.0,432.0L133.5,445.9M121.0,432.0L112.5,417.3" stroke="#bfd62c" stroke-width="3.3" fill="none"/>
<path d="M121.8,431.5L137.0,421.6M120.2,432.5L104.5,442.3M121.2,431.0L124.2,417.1M120.7,433.0L116.6,447.5M121.9,432.3L136.9,437.8M120.0,431.7L104.1,426.5" stroke="#a9c72b" stroke-width="1.9" fill="none"/>
<path d="M121.9,430.2L130.2,414.8M122.9,431.5L139.4,427.1M123.0,432.3L140.7,435.1M119.0,431.8L101.6,429.6M119.1,432.5L101.8,437.2M120.0,433.7L111.0,449.3" stroke="#4b8f2c" stroke-width="2.0" fill="none"/>
<path d="M130.0,479.0L140.8,461.7M130.0,479.0L124.5,458.5M130.0,479.0L120.8,460.9M130.0,479.0L136.8,495.9M130.0,479.0L127.1,497.4M130.0,479.0L118.8,494.4M130.0,479.0L132.3,497.5M130.0,479.0L131.5,462.1" stroke="#bfd62c" stroke-width="3.3" fill="none"/>
<path d="M131.0,479.0L149.1,479.7M129.0,478.9L110.5,478.0M130.7,478.3L141.2,468.6M129.2,479.6L117.5,489.1M130.6,479.8L139.7,492.9M129.4,478.2L119.3,464.8" stroke="#a9c72b" stroke-width="1.9" fill="none"/>
<path d="M131.8,478.1L147.4,470.1M131.9,479.7L147.9,485.5M131.4,480.4L144.3,492.8M128.5,477.7L115.5,466.0M128.1,478.3L111.3,472.2M128.2,479.8L111.9,487.4" stroke="#4b8f2c" stroke-width="2.0" fill="none"/>
<path d="M232.5,550.0L216.8,533.2M232.5,550.0L208.6,550.0M232.5,550.0L210.0,554.8M232.5,550.0L252.9,547.5M232.5,550.0L251.7,558.6M232.5,550.0L246.0,566.7M232.5,550.0L253.3,552.9M232.5,550.0L214.5,543.5" stroke="#bfd62c" stroke-width="3.7" fill="none"/>
<path d="M232.8,549.0L238.8,529.4M232.2,551.0L225.7,570.9M232.0,549.1L224.4,534.8M232.9,550.9L239.9,566.6M233.4,549.7L250.5,543.5M231.6,550.4L213.9,557.5" stroke="#a9c72b" stroke-width="2.1" fill="none"/>
<path d="M232.1,548.0L227.9,528.5M233.6,548.4L244.8,532.4M234.2,549.0L251.8,538.4M230.8,551.1L214.0,562.0M231.4,551.6L219.6,568.4M232.8,552.0L236.4,572.1" stroke="#4b8f2c" stroke-width="2.3" fill="none"/>
<path d="M295.0,550.0L286.0,528.9M295.0,550.0L272.5,541.8M295.0,550.0L272.3,546.8M295.0,550.0L315.0,554.6M295.0,550.0L310.1,564.6M295.0,550.0L302.0,570.3M295.0,550.0L313.6,559.9M295.0,550.0L280.3,537.7" stroke="#bfd62c" stroke-width="3.7" fill="none"/>
<path d="M295.6,549.2L308.0,532.8M294.4,550.8L281.5,567.3M294.9,549.0L292.6,533.0M295.1,551.0L296.3,568.1M296.0,550.0L314.1,550.0M294.0,550.0L274.9,550.7" stroke="#a9c72b" stroke-width="2.1" fill="none"/>
<path d="M295.3,548.0L298.1,528.2M296.6,548.9L312.6,537.7M297.0,549.6L317.1,545.7M293.1,550.4L273.6,554.9M293.4,551.1L276.6,562.9M294.7,552.0L291.1,572.1" stroke="#4b8f2c" stroke-width="2.3" fill="none"/>
<path d="M373.2,550.0L357.2,532.8M373.2,550.0L348.7,550.0M373.2,550.0L350.2,554.9M373.2,550.0L394.1,547.4M373.2,550.0L392.9,558.8M373.2,550.0L387.1,567.1M373.2,550.0L394.5,553.0M373.2,550.0L354.8,543.3" stroke="#bfd62c" stroke-width="3.8" fill="none"/>
<path d="M373.5,549.0L379.6,529.0M372.9,551.0L366.2,571.4M372.7,549.1L364.9,534.5M373.6,550.9L380.8,567.0M374.1,549.7L391.6,543.3M372.3,550.4L354.2,557.7" stroke="#a9c72b" stroke-width="2.2" fill="none"/>
<path d="M372.8,548.0L368.5,528.0M374.3,548.4L385.8,532.0M374.9,549.0L392.9,538.2M371.5,551.1L354.3,562.3M372.1,551.6L360.0,568.8M373.5,552.0L377.2,572.6" stroke="#4b8f2c" stroke-width="2.3" fill="none"/>
<path d="M410.5,550.0L404.4,527.3M410.5,550.0L388.9,538.5M410.5,550.0L387.9,543.5M410.5,550.0L430.1,557.5M410.5,550.0L423.8,567.0M410.5,550.0L414.7,571.6M410.5,550.0L427.9,562.7M410.5,550.0L397.4,535.5" stroke="#bfd62c" stroke-width="3.8" fill="none"/>
<path d="M411.2,549.3L426.1,534.4M409.8,550.7L394.3,565.6M410.5,549.0L410.5,532.4M410.4,551.0L409.2,568.5M411.5,550.1L429.9,552.7M409.5,549.9L390.1,547.9" stroke="#a9c72b" stroke-width="2.2" fill="none"/>
<path d="M411.1,548.1L416.7,528.4M412.3,549.1L430.1,540.0M412.5,549.9L433.5,548.8M408.5,550.2L388.1,552.0M408.7,550.9L390.0,560.4M409.9,551.9L403.4,571.9" stroke="#4b8f2c" stroke-width="2.3" fill="none"/>
<path d="M453.5,550.0L472.0,535.5M453.5,550.0L455.6,525.6M453.5,550.0L450.6,526.7M453.5,550.0L454.2,571.0M453.5,550.0L443.1,568.8M453.5,550.0L435.3,562.3M453.5,550.0L448.7,571.0M453.5,550.0L461.8,532.3" stroke="#bfd62c" stroke-width="3.8" fill="none"/>
<path d="M454.4,550.4L473.9,558.2M452.6,549.6L432.8,541.2M454.4,549.6L469.7,543.1M452.6,550.3L435.9,556.1M453.8,551.0L458.6,568.9M453.2,549.0L447.5,530.4" stroke="#a9c72b" stroke-width="2.2" fill="none"/>
<path d="M455.5,549.8L475.8,547.3M455.0,551.3L470.4,564.1M454.4,551.8L463.6,570.7M452.6,548.2L442.9,530.1M452.0,548.7L435.9,535.2M451.5,550.2L430.6,552.0" stroke="#4b8f2c" stroke-width="2.3" fill="none"/>
<path d="M594.0,550.0L612.1,535.9M594.0,550.0L596.1,526.2M594.0,550.0L591.2,527.2M594.0,550.0L594.7,570.6M594.0,550.0L583.8,568.4M594.0,550.0L576.2,562.0M594.0,550.0L589.3,570.5M594.0,550.0L602.1,532.7" stroke="#bfd62c" stroke-width="3.7" fill="none"/>
<path d="M594.9,550.4L614.0,558.1M593.1,549.6L573.7,541.4M594.9,549.6L609.8,543.3M593.1,550.3L576.8,555.9M594.3,551.0L599.0,568.5M593.7,549.0L588.1,530.8" stroke="#a9c72b" stroke-width="2.1" fill="none"/>
<path d="M596.0,549.8L615.8,547.3M595.5,551.3L610.5,563.8M594.9,551.8L603.9,570.2M593.1,548.2L583.7,530.6M592.5,548.7L576.8,535.6M592.0,550.2L571.6,552.0" stroke="#4b8f2c" stroke-width="2.3" fill="none"/>
<path d="M725.0,550.0L743.1,535.9M725.0,550.0L727.1,526.2M725.0,550.0L722.2,527.2M725.0,550.0L725.7,570.6M725.0,550.0L714.8,568.4M725.0,550.0L707.2,562.0M725.0,550.0L720.3,570.5M725.0,550.0L733.1,532.7" stroke="#bfd62c" stroke-width="3.7" fill="none"/>
<path d="M725.9,550.4L745.0,558.1M724.1,549.6L704.7,541.4M725.9,549.6L740.8,543.3M724.1,550.3L707.8,555.9M725.3,551.0L730.0,568.5M724.7,549.0L719.1,530.8" stroke="#a9c72b" stroke-width="2.1" fill="none"/>
<path d="M727.0,549.8L746.8,547.3M726.5,551.3L741.5,563.8M725.9,551.8L734.9,570.2M724.1,548.2L714.7,530.6M723.5,548.7L707.8,535.6M723.0,550.2L702.6,552.0" stroke="#4b8f2c" stroke-width="2.3" fill="none"/>
<path d="M815.0,550.0L794.5,539.6M815.0,550.0L792.5,558.2M815.0,550.0L795.5,562.2M815.0,550.0L833.3,540.7M815.0,550.0L836.0,551.5M815.0,550.0L833.4,561.1M815.0,550.0L835.6,545.6M815.0,550.0L795.9,550.0" stroke="#bfd62c" stroke-width="3.7" fill="none"/>
<path d="M814.9,549.0L813.9,528.5M815.0,551.0L815.8,572.0M814.3,549.3L802.2,538.5M815.7,550.7L827.6,563.1M815.8,549.4L829.7,537.7M814.3,550.7L800.1,563.4" stroke="#a9c72b" stroke-width="2.1" fill="none"/>
<path d="M813.9,548.3L803.3,531.3M815.5,548.1L820.6,529.2M816.3,548.4L829.1,532.5M813.8,551.6L801.8,567.6M814.5,551.9L809.2,571.7M816.0,551.7L826.2,569.5" stroke="#4b8f2c" stroke-width="2.3" fill="none"/>
</svg>
</body></html>
